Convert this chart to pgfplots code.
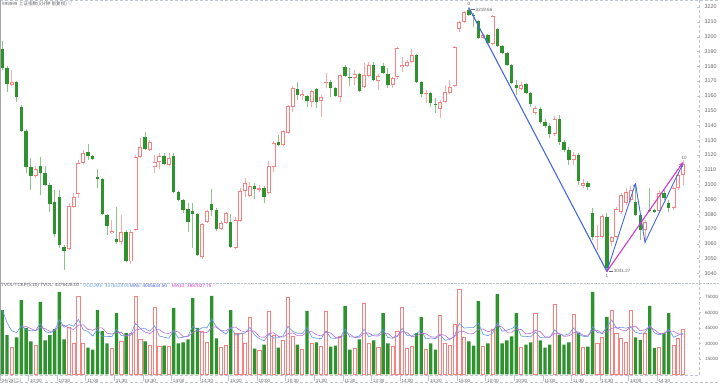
\documentclass[border=0pt]{standalone}
\usepackage{fontspec}
\setmainfont{Liberation Sans}
\newfontfamily\cjk{Noto Sans CJK SC}
\usepackage{pgfplots}
\usepackage{pgfplotstable}
\pgfplotsset{compat=1.18}
\usetikzlibrary{arrows.meta}

\definecolor{kg}{RGB}{46,146,46}
\definecolor{kgw}{RGB}{140,196,140}
\definecolor{kr}{RGB}{250,128,128}
\definecolor{krw}{RGB}{250,170,170}
\definecolor{kblue}{RGB}{72,104,222}
\definecolor{kmag}{RGB}{204,60,204}
\definecolor{kframe}{RGB}{190,196,210}
\definecolor{ktxt}{RGB}{100,100,100}
\definecolor{kvol}{RGB}{110,170,235}
\definecolor{kmafive}{RGB}{100,150,230}
\definecolor{kmaten}{RGB}{185,110,220}
\newcommand{\fs}{\fontsize{5.4}{6}\selectfont}
\newcommand{\fss}{\fontsize{4.6}{5}\selectfont}

% up candles (close >= open): red hollow ; v = volume (x100)
\pgfplotstableread{
i o h l c v
2 3167.2 3177.4 3166.5 3169.2 26000
7 3105.7 3112.4 3104.3 3110.4 28000
14 3056.3 3087.4 3055.6 3085.4 46000
15 3084.7 3094.2 3084.0 3091.4 30000
16 3093.5 3116.5 3090.8 3114.5 76000
17 3114.5 3123.2 3113.8 3121.2 30000
23 3067.1 3075.9 3066.4 3068.4 25000
25 3061.0 3079.2 3059.0 3067.8 32000
27 3048.1 3069.1 3046.1 3067.8 40000
28 3069.1 3119.9 3068.4 3118.5 76000
29 3118.5 3131.4 3117.8 3125.3 34000
31 3123.2 3130.0 3122.6 3128.7 28000
32 3111.7 3119.9 3107.7 3115.1 65300
33 3115.1 3121.2 3110.4 3119.2 27000
35 3113.1 3121.2 3112.4 3117.8 27000
42 3050.9 3073.9 3049.5 3073.2 42000
43 3074.5 3082.6 3073.9 3082.0 31000
46 3069.8 3075.2 3069.1 3073.9 26000
47 3073.9 3081.3 3073.2 3080.6 28000
49 3056.9 3077.9 3056.3 3075.9 40000
50 3075.2 3097.5 3074.5 3095.5 40000
51 3095.5 3104.3 3091.4 3100.9 30000
52 3092.1 3101.6 3091.4 3098.9 55700
54 3096.5 3099.6 3094.8 3097.5 23000
56 3094.2 3115.8 3093.5 3112.4 61500
57 3111.7 3129.3 3108.4 3128.0 38000
59 3126.6 3136.8 3126.0 3136.1 33000
60 3134.7 3153.7 3134.1 3153.0 75000
61 3152.3 3166.5 3148.9 3165.2 37000
63 3159.8 3163.8 3157.1 3161.1 24000
65 3155.7 3163.8 3152.3 3163.2 30000
67 3156.4 3160.5 3145.6 3159.1 27000
68 3168.6 3175.3 3165.2 3169.3 61500
71 3159.1 3174.7 3155.7 3174.0 37000
74 3172.0 3177.4 3167.2 3174.7 25000
76 3165.9 3182.1 3165.2 3174.0 69200
77 3173.3 3182.8 3172.6 3180.7 30000
79 3169.9 3174.7 3163.8 3173.3 26000
82 3167.2 3172.6 3165.2 3172.0 27000
83 3172.6 3192.9 3171.3 3192.3 42000
84 3179.4 3186.2 3176.0 3180.7 65300
85 3180.1 3184.1 3179.4 3182.8 25000
86 3182.8 3191.6 3182.1 3187.5 27000
89 3161.1 3163.8 3155.0 3161.8 24000
92 3151.0 3157.1 3144.9 3155.7 57600
93 3155.7 3167.2 3155.0 3162.5 30000
94 3161.8 3170.6 3161.1 3165.9 28000
95 3166.5 3193.6 3165.9 3192.9 48000
96 3205.1 3210.5 3203.1 3209.9 82800
97 3209.9 3217.3 3209.2 3216.6 36000
101 3199.0 3201.7 3198.4 3201.1 27000
103 3195.0 3214.6 3194.3 3213.9 44000
109 3164.5 3169.3 3163.8 3167.2 26000
112 3148.3 3153.0 3146.9 3151.7 59500
116 3134.1 3146.3 3132.7 3144.2 68200
120 3116.5 3121.9 3113.1 3119.9 58600
122 3098.9 3103.6 3097.5 3100.9 26000
125 3064.4 3072.5 3055.6 3065.1 30000
126 3064.4 3080.0 3063.7 3078.6 36000
128 3061.0 3065.1 3058.3 3064.4 62400
129 3064.4 3084.7 3063.7 3083.3 40000
130 3081.3 3094.2 3080.0 3092.8 35000
131 3087.4 3097.5 3086.0 3094.8 31000
132 3089.4 3098.9 3088.1 3096.2 62400
135 3069.1 3075.9 3060.3 3074.5 40200
138 3082.0 3096.2 3080.6 3094.2 26600
141 3084.0 3098.9 3082.6 3097.5 28600
142 3097.5 3108.4 3096.2 3106.3 35300
143 3106.3 3116.5 3099.6 3113.8 43764
}\up

% down candles (close < open): green filled
\pgfplotstableread{
i o h l c v
0 3191.6 3197.0 3177.4 3178.7 62400
1 3178.7 3180.0 3162.5 3167.9 38000
3 3169.2 3170.0 3155.7 3159.1 36000
4 3152.3 3153.7 3135.4 3136.1 72100
5 3136.1 3137.4 3107.7 3111.7 45000
6 3111.7 3117.8 3096.2 3105.7 32000
8 3112.4 3118.5 3092.8 3107.7 70200
9 3107.7 3112.4 3098.9 3099.6 33000
10 3099.6 3101.0 3081.3 3086.7 38000
11 3088.1 3096.2 3064.4 3066.4 44000
12 3091.4 3096.2 3056.9 3059.0 79900
13 3057.6 3059.0 3042.1 3054.9 34000
18 3121.9 3127.3 3116.5 3119.2 26000
19 3119.2 3119.9 3116.5 3117.2 24000
20 3104.9 3110.4 3097.5 3103.6 62400
21 3103.6 3104.3 3079.2 3079.9 42000
22 3079.2 3079.9 3065.7 3071.8 30000
24 3063.0 3084.7 3059.7 3061.0 59500
26 3067.8 3069.1 3047.5 3048.1 40000
30 3132.0 3135.4 3123.2 3123.9 32000
34 3119.2 3121.2 3113.1 3113.8 28000
36 3119.2 3121.2 3094.2 3094.8 64400
37 3094.8 3095.5 3088.7 3089.4 30000
38 3089.4 3090.1 3080.6 3082.6 31000
39 3083.3 3087.4 3067.8 3074.5 34000
40 3082.0 3087.4 3056.9 3079.9 74100
41 3079.9 3080.6 3051.5 3052.2 45000
44 3086.7 3096.9 3078.6 3082.6 76000
45 3082.6 3084.0 3068.4 3069.8 35000
48 3074.5 3079.9 3056.9 3057.6 62400
53 3098.9 3100.9 3090.1 3096.9 25000
55 3097.5 3098.9 3087.4 3091.4 29000
58 3128.7 3133.4 3126.0 3126.6 26000
62 3164.5 3169.3 3157.1 3160.5 29000
64 3159.8 3160.5 3152.3 3156.4 61500
66 3164.5 3165.2 3151.7 3155.7 31000
69 3169.3 3170.6 3159.1 3165.2 27000
70 3165.2 3165.9 3159.1 3159.8 28000
72 3179.4 3180.7 3172.6 3173.3 66300
73 3172.6 3178.7 3166.6 3172.0 24000
75 3174.7 3175.3 3162.5 3163.2 34000
78 3180.7 3182.8 3169.9 3170.6 33000
80 3180.1 3182.1 3174.7 3175.3 59500
81 3174.7 3178.7 3165.2 3167.2 30000
87 3187.5 3188.2 3168.6 3169.3 40000
88 3169.3 3169.9 3159.1 3161.1 55700
90 3161.8 3162.5 3152.3 3155.0 30000
91 3154.4 3158.4 3148.3 3153.8 24000
98 3218.0 3219.66 3213.9 3214.6 32000
99 3214.6 3215.9 3206.5 3213.9 28000
100 3210.5 3211.2 3198.4 3199.0 71100
102 3201.1 3201.7 3195.0 3195.6 30000
104 3205.1 3205.8 3192.9 3193.6 77900
105 3193.6 3194.3 3188.2 3188.9 30000
106 3188.9 3189.6 3180.1 3180.7 33000
107 3180.7 3181.4 3167.9 3168.6 37000
108 3167.2 3170.6 3160.5 3165.2 59500
110 3167.9 3168.6 3161.1 3161.8 29000
111 3161.8 3162.5 3152.3 3154.4 31000
113 3151.0 3152.3 3140.8 3142.2 33000
114 3142.2 3144.2 3138.1 3139.5 26000
115 3139.5 3141.5 3131.4 3134.1 29000
117 3144.2 3146.9 3126.6 3128.7 38000
118 3128.7 3130.0 3121.9 3123.3 29000
119 3123.3 3125.3 3113.1 3116.5 31000
121 3119.9 3121.2 3099.6 3102.3 40000
123 3100.9 3102.3 3096.2 3098.2 27000
124 3080.6 3084.0 3062.4 3064.4 79900
127 3077.9 3080.6 3041.27 3043.4 55700
133 3088.1 3100.9 3078.6 3079.3 36000
134 3079.3 3080.6 3062.4 3069.1 33400
136 3082.6 3097.5 3081.3 3082.0 66300
137 3082.6 3083.3 3080.6 3081.6 25700
139 3094.2 3096.2 3089.4 3090.8 40200
140 3087.4 3089.4 3081.3 3084.0 59500
}\dn

\begin{document}
\begin{tikzpicture}
\useasboundingbox (0,0) rectangle (720pt,383pt);
\fill[white] (0,0) rectangle (720pt,383pt);

% ---------------- price panel ----------------
\begin{axis}[
  at={(0pt,100pt)}, anchor=south west, scale only axis,
  width=699pt, height=283pt,
  xmin=-0.48, xmax=146.35, ymin=3033.5, ymax=3224.74,
  axis x line=none, axis y line*=right,
  y axis line style={kframe, densely dashed},
  ytick={3040,3050,...,3220},
  yticklabel style={font=\fs, text=ktxt, /pgf/number format/1000 sep={}, xshift=2pt},
  /pgf/number format/assume math mode=true,
  tick align=inside, major tick length=2pt, ytick style={kframe},
  clip mode=individual,
]
% wicks
\addplot[draw=none, mark=none, error bars/.cd, y dir=plus, y explicit, error mark=none,
  error bar style={draw=kgw, line width=0.8pt}]
  table[x=i, y=l, y error plus expr={\thisrow{h}-\thisrow{l}}] {\dn};
\addplot[draw=none, mark=none, error bars/.cd, y dir=plus, y explicit, error mark=none,
  error bar style={draw=krw, line width=0.8pt}]
  table[x=i, y=l, y error plus expr={\thisrow{h}-\thisrow{l}}] {\up};
% green bodies
\addplot[draw=none, mark=none, error bars/.cd, y dir=plus, y explicit, error mark=none,
  error bar style={draw=kg, line width=3.4pt}]
  table[x=i, y=c, y error plus expr={max(\thisrow{o}-\thisrow{c},0.7)}] {\dn};
% red hollow bodies
\addplot[draw=none, mark=none, error bars/.cd, y dir=plus, y explicit, error mark=none,
  error bar style={draw=kr, line width=4pt}]
  table[x=i, y=o, y error plus expr={max(\thisrow{c}-\thisrow{o},0.7)}] {\up};
\addplot[draw=none, mark=none, error bars/.cd, y dir=plus, y explicit, error mark=none,
  error bar style={draw=white, line width=2.3pt}]
  table[x=i, y expr={\thisrow{o}+0.6}, y error plus expr={max(\thisrow{c}-\thisrow{o}-1.2,0)}] {\up};
% zigzag
\addplot[kblue, line width=1.1pt] coordinates {(98,3219.66) (127,3041.27)};
\addplot[kblue, line width=0.9pt, -{Stealth[length=4pt,width=3pt]}] coordinates {(127,3041.27) (133,3100.9)};
\addplot[kblue, line width=0.9pt, -{Stealth[length=4pt,width=3pt]}] coordinates {(133,3100.9) (135,3061.0) (143,3114.4)};
\addplot[kmag, line width=1.1pt, -{Stealth[length=4.5pt,width=3.5pt]}] coordinates {(127,3041.27) (143,3115.2)};
% annotations
\node[font=\fss, text=ktxt, anchor=south, inner sep=0.5pt] at (axis cs:98,3220.2) {0};
\draw[ktxt, line width=0.4pt] (axis cs:98.4,3218.3) -- (axis cs:99.3,3218.3) node[right, font=\fss, text=ktxt, inner sep=0.5pt]{3219.66};
\node[font=\fss, text=ktxt, anchor=north, inner sep=0.5pt] at (axis cs:127,3039.8) {1};
\draw[ktxt, line width=0.4pt] (axis cs:127.4,3041.8) -- (axis cs:128.3,3041.8) node[right, font=\fss, text=ktxt, inner sep=0.5pt]{3041.27};
\node[font=\fss, text=ktxt, anchor=south, inner sep=0.5pt] at (axis cs:143.2,3116.5) {10};
\end{axis}

% ---------------- volume panel ----------------
\begin{axis}[
  at={(0pt,8pt)}, anchor=south west, scale only axis,
  width=699pt, height=92pt,
  xmin=-0.48, xmax=146.35, ymin=-500, ymax=88560,
  axis x line*=bottom, axis y line*=right,
  x axis line style={kframe, densely dashed},
  y axis line style={kframe, densely dashed},
  ytick={15000,30000,45000,60000,75000},
  yticklabel style={font=\fss, text=ktxt, /pgf/number format/1000 sep={}, xshift=0.5pt},
  /pgf/number format/assume math mode=true,
  scaled y ticks=false,
  xtick={-0.48,5.5,11.5,17.5,23.5,29.5,35.5,41.5,47.5,53.5,59.5,65.5,71.5,77.5,83.5,89.5,95.5,101.5,107.5,113.5,119.5,125.5,131.5,137.5},
  xticklabels={{\cjk 04/28(二)},10:00,10:30,11:00,11:30,13:30,14:00,14:30,15:00,10:00,10:30,11:00,11:30,13:30,14:00,14:30,15:00,10:00,10:30,11:00,11:30,13:30,14:00,14:30},
  xticklabel style={font=\fss, text=ktxt, anchor=north west, inner sep=0pt, xshift=1.5pt, yshift=-1.6pt},
  xtick style={kframe, /pgfplots/major tick length=6pt},
  tick align=outside, major tick length=2pt, ytick style={kframe},
]
\addplot[ybar, bar width=3.4pt, bar shift=0pt, fill=kg, draw=none] table[x=i, y=v] {\dn};
\addplot[ybar, bar width=3.2pt, bar shift=0pt, fill=white, draw=kr, line width=0.8pt] table[x=i, y=v] {\up};
% MA5
\addplot[kmafive, line width=0.6pt, mark=none] coordinates {
(0,62400)(1,50200)(2,42100)(3,40600)(4,46900)(5,43420)(6,42220)(7,42620)(8,49460)(9,41640)
(10,40240)(11,42640)(12,53020)(13,45780)(14,48380)(15,46780)(16,53180)(17,43200)(18,41600)(19,37200)
(20,43680)(21,36880)(22,36880)(23,36680)(24,43780)(25,37700)(26,37300)(27,39300)(28,49500)(29,44400)
(30,44400)(31,42000)(32,47060)(33,37260)(34,36060)(35,35060)(36,42340)(37,35280)(38,36080)(39,37280)
(40,46700)(41,42820)(42,45220)(43,45220)(44,53620)(45,45800)(46,42000)(47,39200)(48,45480)(49,38280)
(50,39280)(51,40080)(52,45620)(53,38140)(54,34740)(55,32540)(56,38840)(57,35300)(58,35500)(59,37500)
(60,46700)(61,41800)(62,40000)(63,39600)(64,45300)(65,36300)(66,35100)(67,34700)(68,42200)(69,35300)
(70,34900)(71,36100)(72,43960)(73,36460)(74,36060)(75,37260)(76,43700)(77,36440)(78,38240)(79,38440)
(80,43540)(81,35700)(82,35100)(83,36900)(84,44760)(85,37860)(86,37260)(87,39860)(88,42600)(89,34340)
(90,35340)(91,34740)(92,38260)(93,33120)(94,33920)(95,37520)(96,49280)(97,44960)(98,45360)(99,45360)
(100,49980)(101,38820)(102,37620)(103,40020)(104,50000)(105,41780)(106,42980)(107,44380)(108,47480)(109,37100)
(110,36900)(111,36500)(112,41000)(113,35700)(114,35700)(115,35700)(116,43140)(117,38840)(118,38040)(119,39040)
(120,44960)(121,39320)(122,36920)(123,36520)(124,46300)(125,40580)(126,39780)(127,45720)(128,52800)(129,44820)
(130,45820)(131,44820)(132,46160)(133,40880)(134,39560)(135,40600)(136,47660)(137,40320)(138,38440)(139,39800)
(140,43660)(141,36120)(142,38040)(143,40056)};
% MA10
\addplot[kmaten, line width=0.6pt, mark=none] coordinates {
(4,46900)(5,46600)(6,44500)(7,42400)(8,45500)(9,44270)
(10,41830)(11,42430)(12,47820)(13,47620)(14,45010)(15,43510)(16,47910)(17,48110)(18,43690)(19,42790)
(20,45230)(21,45030)(22,40040)(23,39140)(24,40490)(25,40690)(26,37090)(27,38090)(28,43090)(29,44090)
(30,41050)(31,39650)(32,43180)(33,43380)(34,40230)(35,39730)(36,42170)(37,41170)(38,36670)(39,36670)
(40,40880)(41,42580)(42,40250)(43,40650)(44,45450)(45,46250)(46,42410)(47,42210)(48,45350)(49,45950)
(50,42540)(51,41040)(52,42410)(53,41810)(54,36510)(55,35910)(56,39460)(57,40460)(58,36820)(59,36120)
(60,39620)(61,40320)(62,37650)(63,37550)(64,41400)(65,41500)(66,38450)(67,37350)(68,40900)(69,40300)
(70,35600)(71,35600)(72,39330)(73,39330)(74,35680)(75,36080)(76,39900)(77,40200)(78,37350)(79,37250)
(80,40400)(81,39700)(82,35770)(83,37570)(84,41600)(85,40700)(86,36480)(87,37480)(88,39750)(89,39550)
(90,36600)(91,36000)(92,39060)(93,37860)(94,34130)(95,36430)(96,42010)(97,41610)(98,39240)(99,39640)
(100,43750)(101,44050)(102,41290)(103,42690)(104,47680)(105,45880)(106,40900)(107,41000)(108,43750)(109,43550)
(110,39340)(111,39740)(112,42690)(113,41590)(114,36400)(115,36300)(116,39820)(117,39920)(118,36870)(119,37370)
(120,40330)(121,41230)(122,37880)(123,37280)(124,42670)(125,42770)(126,39550)(127,41320)(128,44660)(129,45560)
(130,43200)(131,42300)(132,45940)(133,46840)(134,42190)(135,43210)(136,46240)(137,43240)(138,39660)(139,39680)
(140,42130)(141,41890)(142,39180)(143,38870)};
\end{axis}

% frame lines
\draw[kframe, densely dashed] (0,382.5pt) -- (720pt,382.5pt);
\draw[kframe, densely dotted] (0,100pt) -- (720pt,100pt);
\draw[kframe, densely dashed] (0,0.5pt) -- (720pt,0.5pt);
\draw[gray!70, line width=1pt] (0.5pt,8pt) -- (0.5pt,383pt);

% header texts
\node[anchor=west, font=\fss, text=ktxt, inner sep=0pt] at (2pt,378.5pt) {999999 {\cjk 上证指数(5分钟 前复权) ▽}};
\node[anchor=west, font=\fss, text=ktxt, inner sep=0pt] at (1pt,97.5pt) {TVOL-TCKP(5,10) TVOL: 4376428.00};
\node[anchor=west, font=\fss, text=kvol, inner sep=0pt] at (83pt,97.5pt) {VOLUME: 4376428.00};
\node[anchor=west, font=\fss, text=kblue, inner sep=0pt] at (130pt,97.5pt) {MA5: 4005634.50};
\node[anchor=west, font=\fss, text=kmag, inner sep=0pt] at (172pt,97.5pt) {MA10: 3887027.75};
\end{tikzpicture}
\end{document}
